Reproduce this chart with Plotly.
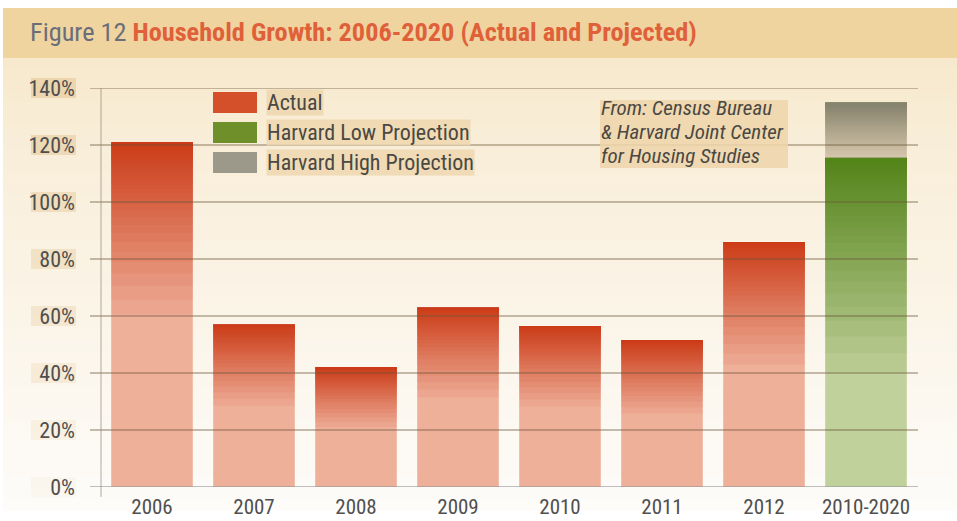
import plotly.graph_objects as go

# ---------------- data ----------------
categories = ["2006", "2007", "2008", "2009", "2010", "2011", "2012", "2010-2020"]
actual = [121, 57, 42, 63, 56.5, 51.5, 86, None]
harvard_low = [None, None, None, None, None, None, None, 115.5]
harvard_high = [None, None, None, None, None, None, None, 135]
y_ticks = [0, 20, 40, 60, 80, 100, 120, 140]
y_tick_labels = ["0%", "20%", "40%", "60%", "80%", "100%", "120%", "140%"]
legend_labels = ["Actual", "Harvard Low Projection", "Harvard High Projection"]
title_prefix = "Figure 12 "
title_main = "Household Growth: 2006-2020 (Actual and Projected)"
source_lines = ["From: Census Bureau", "&amp; Harvard Joint Center", "for Housing Studies"]

W, H = 957, 521
L, R, T, B = 101, 917, 88, 487
FONT = "Liberation Sans Narrow, 'Roboto Condensed', 'DejaVu Sans Condensed', 'Arial Narrow', sans-serif"


def px(x):
    return (x - L) / (R - L)


def py(y):
    return (B - y) / (B - T)


fig = go.Figure()


def gradient_layers(values, bases, start_frac, rgb, n=40, top_alpha=0.97):
    """Overlay translucent layers so colour darkens towards the top of each bar."""
    a = 1 - (1 - top_alpha) ** (1.0 / n)
    for k in range(1, n + 1):
        t = (1 - (1 - a) ** (k - 1)) / top_alpha
        ys, bs = [], []
        for v, b0 in zip(values, bases):
            if v is None:
                ys.append(None)
                bs.append(None)
                continue
            b0 = b0 or 0
            h = v - b0
            start = b0 + h * (start_frac + (1 - start_frac) * t)
            ys.append(v - start)
            bs.append(start)
        fig.add_trace(go.Bar(
            x=categories, y=ys, base=bs,
            marker=dict(color="rgba(%d,%d,%d,%.4f)" % (rgb[0], rgb[1], rgb[2], a), line=dict(width=0)),
            showlegend=False, hoverinfo="skip",
        ))


# Actual (base colour + gradient)
fig.add_trace(go.Bar(x=categories, y=actual, name=legend_labels[0],
                     marker=dict(color="#efb09a", line=dict(width=0)), showlegend=False))
gradient_layers(actual, [0] * len(actual), 0.5, (204, 60, 26))

# Harvard low (green)
fig.add_trace(go.Bar(x=categories, y=harvard_low, name=legend_labels[1],
                     marker=dict(color="#c1d19b", line=dict(width=0)), showlegend=False))
gradient_layers(harvard_low, [0] * len(harvard_low), 0.35, (90, 128, 28))

# Harvard high (grey, stacked above low)
high_seg = [None if (h is None or l is None) else h - l for h, l in zip(harvard_high, harvard_low)]
fig.add_trace(go.Bar(x=categories, y=high_seg, base=harvard_low, name=legend_labels[2],
                     marker=dict(color="rgba(205,190,160,0.75)", line=dict(width=0)), showlegend=False))
gradient_layers(harvard_high, harvard_low, 0.0, (120, 116, 100), n=30, top_alpha=0.8)

shapes = []
# background: tan title band, cream gradient body
bg_top = (247, 233, 205)
bg_bot = (254, 252, 249)
n_bg = 40
y0, y1 = 58, 510
for i in range(n_bg):
    ya = y0 + (y1 - y0) * i / n_bg
    yb = y0 + (y1 - y0) * (i + 1) / n_bg
    f = (i / (n_bg - 1)) ** 0.8
    c = tuple(int(bg_top[j] + (bg_bot[j] - bg_top[j]) * f) for j in range(3))
    shapes.append(dict(type="rect", xref="paper", yref="paper", layer="below",
                       x0=px(3), x1=px(957), y0=py(yb + 0.5), y1=py(ya),
                       fillcolor="rgb(%d,%d,%d)" % c, line=dict(width=0)))
shapes.append(dict(type="rect", xref="paper", yref="paper", layer="below",
                   x0=px(3), x1=px(957), y0=py(58), y1=py(8),
                   fillcolor="#efd4a0", line=dict(width=0)))

# tan highlights behind y tick labels
for v in y_ticks:
    yy = B - v * (B - T) / 140
    alpha = 0.1 + 0.6 * v / 140
    shapes.append(dict(type="rect", xref="paper", yref="paper", layer="below",
                       x0=px(31), x1=px(76), y0=py(yy + 10), y1=py(yy - 10),
                       fillcolor="rgba(232,205,160,%.2f)" % alpha, line=dict(width=0)))

# gridlines drawn above bars
for v in y_ticks:
    col = "rgba(150,150,150,0.6)" if v == 0 else "rgba(105,85,55,0.38)"
    shapes.append(dict(type="line", xref="paper", yref="y", layer="above",
                       x0=px(90), x1=px(918), y0=v, y1=v,
                       line=dict(color=col, width=2)))
# y axis line (extends slightly below zero)
shapes.append(dict(type="line", xref="paper", yref="paper", layer="above",
                   x0=0, x1=0, y0=py(497), y1=1,
                   line=dict(color="rgba(140,130,115,0.45)", width=1.5)))

# legend swatches
sw_cols = ["#d4502a", "#6e8f2a", "#9c988a"]
sw_y = [102.5, 132.5, 162.5]
for c, yc in zip(sw_cols, sw_y):
    shapes.append(dict(type="rect", xref="paper", yref="paper", layer="above",
                       x0=px(213), x1=px(257), y0=py(yc + 10.5), y1=py(yc - 10.5),
                       fillcolor=c, line=dict(width=0)))

# source note box
shapes.append(dict(type="rect", xref="paper", yref="paper", layer="above",
                   x0=px(600), x1=px(788), y0=py(168), y1=py(100),
                   fillcolor="rgba(238,213,170,0.85)", line=dict(width=0)))

annotations = []
for lab, yc in zip(legend_labels, sw_y):
    annotations.append(dict(xref="paper", yref="paper", x=px(266), y=py(yc), xanchor="left",
                            yanchor="middle", text=lab, showarrow=False,
                            font=dict(family=FONT, size=22, color="#4a4843"),
                            bgcolor="rgba(238,215,175,0.85)", borderpad=0))

for i, line in enumerate(source_lines):
    annotations.append(dict(xref="paper", yref="paper", x=px(599), y=py(108 + 24 * i), xanchor="left",
                            yanchor="middle", align="left", text="<i>" + line + "</i>",
                            showarrow=False, font=dict(family=FONT, size=21, color="#4a4843")))

annotations.append(dict(xref="paper", yref="paper", x=px(28), y=py(32), xanchor="left",
                        yanchor="middle",
                        text="<span style='color:#6b6e79'>" + title_prefix + "</span><b>" + title_main + "</b>",
                        showarrow=False, font=dict(family=FONT, size=26.3, color="#e0603a")))

fig.update_layout(
    width=W, height=H,
    margin=dict(l=L, r=W - R, t=T, b=H - B, pad=0),
    paper_bgcolor="white", plot_bgcolor="rgba(0,0,0,0)",
    barmode="overlay", bargap=0.2,
    showlegend=False,
    shapes=shapes, annotations=annotations,
    font=dict(family=FONT, color="#555555"),
)
fig.update_yaxes(range=[0, 140], tickvals=y_ticks, ticktext=y_tick_labels, showgrid=False,
                 zeroline=False, showline=False, ticks="", ticklabelstandoff=25, automargin=False,
                 tickfont=dict(family=FONT, size=22, color="#4f4f4f"), fixedrange=True)
fig.update_xaxes(type="category", showgrid=False, showline=False, ticks="", automargin=False,
                 tickfont=dict(family=FONT, size=21, color="#4f4f4f"), ticklabelstandoff=5)

fig.write_html("out.html", config={"displayModeBar": False},
               post_script="document.body.style.margin='0';document.body.style.padding='0';")
